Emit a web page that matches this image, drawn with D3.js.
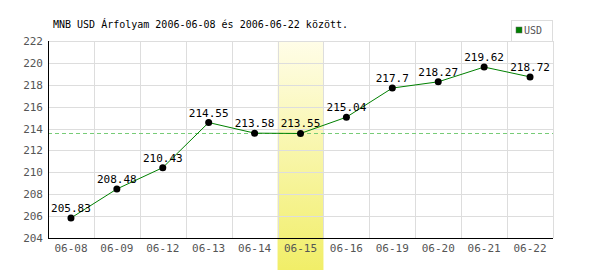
<!DOCTYPE html>
<meta charset="utf-8">
<style>
  body { margin: 0; background: #fff; }
  text { font-family: "DejaVu Sans Mono", monospace; }
</style>
<body>
<script src="https://cdn.jsdelivr.net/npm/d3@7"></script>
<script>
var dates = ["06-08", "06-09", "06-12", "06-13", "06-14", "06-15", "06-16", "06-19", "06-20", "06-21", "06-22"];
var rates = [205.83, 208.48, 210.43, 214.55, 213.58, 213.55, 215.04, 217.7, 218.27, 219.62, 218.72];
var yTicks = [204, 206, 208, 210, 212, 214, 216, 218, 220, 222];
var highlightDay = "06-15";
var refValue = 213.55;
var seriesName = "USD";
var title = "MNB USD Árfolyam 2006-06-08 és 2006-06-22 között.";

var width = 600, height = 270;
var margin = {top: 41, right: 47, bottom: 32, left: 48};

var svg = d3.select("body").append("svg")
    .attr("width", width)
    .attr("height", height);

var x = d3.scaleBand()
    .domain(dates)
    .range([margin.left, width - margin.right]);

var y = d3.scaleLinear()
    .domain([204, 222])
    .range([height - margin.bottom, margin.top]);

// highlighted day
var grad = svg.append("defs").append("linearGradient")
    .attr("id", "hl")
    .attr("x1", "0%").attr("y1", "0%")
    .attr("x2", "0%").attr("y2", "100%");
grad.append("stop").attr("offset", "0%").attr("stop-color", "#fffde8");
grad.append("stop").attr("offset", "100%").attr("stop-color", "#f1ee68");

svg.append("rect")
    .attr("x", x(highlightDay))
    .attr("y", margin.top)
    .attr("width", x.bandwidth())
    .attr("height", height - margin.top)
    .style("fill", "url(#hl)");

// grid
svg.append("g").selectAll("line")
    .data(yTicks)
    .enter().append("line")
    .attr("x1", margin.left).attr("x2", width - margin.right)
    .attr("y1", function(d) { return Math.round(y(d)) + 0.5; })
    .attr("y2", function(d) { return Math.round(y(d)) + 0.5; })
    .attr("stroke", "#dddddd");

svg.append("g").selectAll("line")
    .data(dates.slice(1).concat(["end"]))
    .enter().append("line")
    .attr("x1", function(d, i) { return Math.round(margin.left + (i + 1) * x.bandwidth()) + 0.5; })
    .attr("x2", function(d, i) { return Math.round(margin.left + (i + 1) * x.bandwidth()) + 0.5; })
    .attr("y1", margin.top)
    .attr("y2", height - margin.bottom)
    .attr("stroke", "#dddddd");

// reference line
svg.append("line")
    .attr("x1", margin.left).attr("x2", width - margin.right)
    .attr("y1", Math.round(y(refValue)) + 0.5)
    .attr("y2", Math.round(y(refValue)) + 0.5)
    .attr("stroke", "#77cc77")
    .attr("stroke-dasharray", "4,3");

// axes
svg.append("line")
    .attr("x1", margin.left + 0.5).attr("x2", margin.left + 0.5)
    .attr("y1", margin.top).attr("y2", height - margin.bottom + 1)
    .attr("stroke", "#000");
svg.append("line")
    .attr("x1", margin.left).attr("x2", width - margin.right)
    .attr("y1", height - margin.bottom + 0.5).attr("y2", height - margin.bottom + 0.5)
    .attr("stroke", "#000");

svg.append("g").selectAll("text")
    .data(yTicks)
    .enter().append("text")
    .attr("x", margin.left - 5)
    .attr("y", function(d) { return y(d) + 4; })
    .attr("text-anchor", "end")
    .attr("font-size", 11)
    .attr("fill", "#555")
    .text(function(d) { return d; });

svg.append("g").selectAll("text")
    .data(dates)
    .enter().append("text")
    .attr("x", function(d) { return x(d) + x.bandwidth() / 2; })
    .attr("y", height - margin.bottom + 14)
    .attr("text-anchor", "middle")
    .attr("font-size", 11)
    .attr("fill", "#555")
    .text(function(d) { return d; });

// series
var line = d3.line()
    .x(function(d, i) { return x(dates[i]) + x.bandwidth() / 2; })
    .y(function(d) { return y(d); });

svg.append("path")
    .datum(rates)
    .attr("d", line)
    .attr("fill", "none")
    .attr("stroke", "#008000")
    .attr("stroke-width", 1);

svg.append("g").selectAll("circle")
    .data(rates)
    .enter().append("circle")
    .attr("cx", function(d, i) { return x(dates[i]) + x.bandwidth() / 2; })
    .attr("cy", function(d) { return y(d); })
    .attr("r", 3.5)
    .attr("fill", "#000");

svg.append("g").selectAll("text")
    .data(rates)
    .enter().append("text")
    .attr("x", function(d, i) { return x(dates[i]) + x.bandwidth() / 2; })
    .attr("y", function(d) { return y(d) - 6; })
    .attr("text-anchor", "middle")
    .attr("font-size", 11)
    .attr("fill", "#000")
    .text(function(d) { return d; });

// title
svg.append("text")
    .attr("x", 53)
    .attr("y", 28)
    .attr("font-size", 10)
    .attr("fill", "#000")
    .text(title);

// legend
var legend = svg.append("g");
legend.append("rect")
    .attr("x", 511.5).attr("y", 20.5)
    .attr("width", 41).attr("height", 21)
    .attr("fill", "#fff")
    .attr("stroke", "#dddddd");
legend.append("rect")
    .attr("x", 516).attr("y", 27)
    .attr("width", 6).attr("height", 6)
    .attr("fill", "#008000")
    .attr("stroke", "#666")
    .attr("stroke-width", 0.5);
legend.append("text")
    .attr("x", 524).attr("y", 34)
    .attr("font-size", 10)
    .attr("fill", "#555")
    .text(seriesName);
</script>
</body>
